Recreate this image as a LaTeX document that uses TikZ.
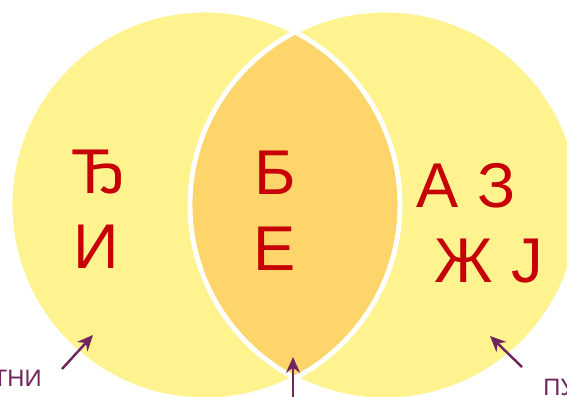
\documentclass[tikz,border=0pt]{standalone}
\usepackage{fontspec}
\setmainfont{Liberation Sans}
\usetikzlibrary{arrows.meta}
\definecolor{pale}{RGB}{254,243,143}
\definecolor{lens}{RGB}{254,213,106}
\definecolor{letter}{RGB}{199,0,8}
\definecolor{plum}{RGB}{112,38,92}

\begin{document}
\begin{tikzpicture}[x=0.02cm, y=-0.02cm, font=\fontsize{36}{40}\selectfont,
  glyph/.style={text=letter, inner sep=0pt, anchor=base},
  tag/.style={text=plum, inner sep=0pt, font=\fontsize{13.5}{15}\selectfont},
  pointer/.style={-{Stealth[length=9pt,width=8pt]}, plum, line width=1.4pt}]
  \useasboundingbox (0,0) rectangle (567,396);
  \clip (0,0) rectangle (567,396);
  % two sets
  \fill[pale] (205,205) circle (195);
  \fill[pale] (385,205) circle (195);
  % common part
  \begin{scope}
    \clip (205,205) circle (195);
    \fill[lens] (385,205) circle (195);
  \end{scope}
  \draw[white, line width=2.8pt] (205,205) circle (195) (385,205) circle (195);
  % letters, left only
  \node[glyph] (dje) at (99,193) {Ђ};
  \node[glyph] (i) at (96,268) {И};
  % letters, in both
  \node[glyph] (be) at (275,194) {Б};
  \node[glyph] (e) at (275,270) {Е};
  % letters, right only
  \node[glyph] (a) at (438,207) {А};
  \node[glyph] (ze) at (497,207) {З};
  \node[glyph] (zhe) at (464,282) {Ж};
  \node[glyph] (je) at (527,282) {Ј};
  % labels + pointers
  \node[tag, anchor=base east] (leftlabel) at (42,386) {ТНИ};
  \node[tag, anchor=base west] (rightlabel) at (543,395) {ПУ};
  \coordinate (lefttail) at (62,369);
  \coordinate (lefttip) at (93,335);
  \coordinate (midtail) at (293,400);
  \coordinate (midtip) at (293,357);
  \coordinate (righttail) at (522,367);
  \coordinate (righttip) at (490,336);
  \draw[pointer] (lefttail) -- (lefttip);
  \draw[pointer] (midtail) -- (midtip);
  \draw[pointer] (righttail) -- (righttip);
\end{tikzpicture}
\end{document}
